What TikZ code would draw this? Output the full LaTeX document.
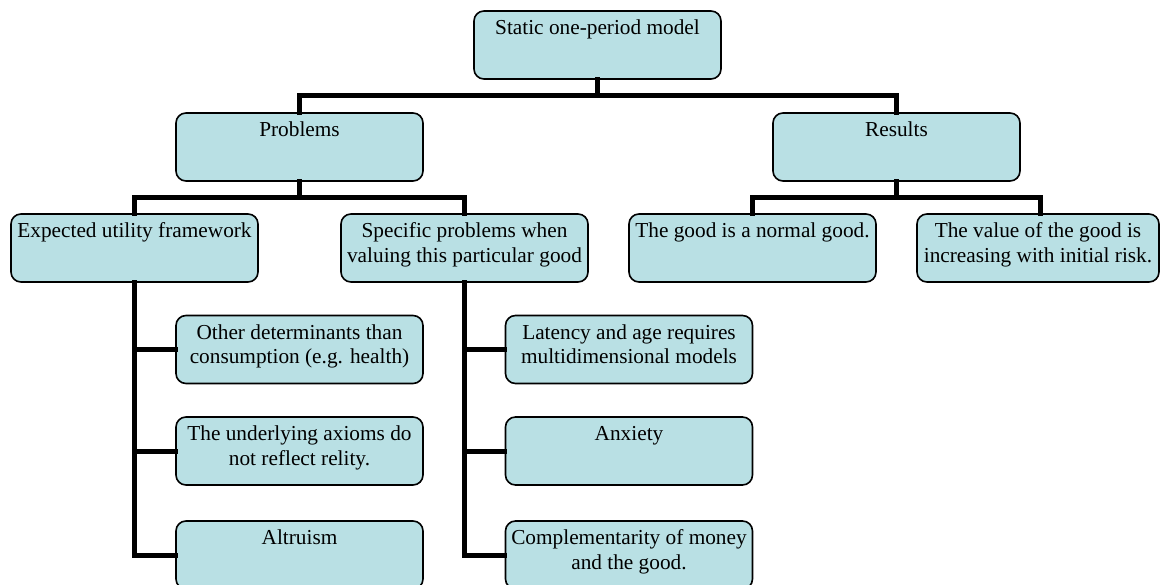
\documentclass[tikz,border=0pt]{standalone}
\usepackage{fontspec}
\setmainfont{Liberation Serif}
\definecolor{boxfill}{RGB}{185,224,228}
\tikzset{
  x=1pt, y=-1pt,
  box/.style={draw=black, line width=1.6pt, fill=boxfill, rounded corners=10pt,
    inner sep=0pt, minimum height=68pt, minimum width=#1},
  box/.default=247pt,
  conn/.style={draw=black, line width=5pt, line join=miter, line cap=rect},
}
% text set at the top of each box
\newcommand{\boxtext}[2][241pt]{\parbox[c][68pt][t]{#1}{\centering\fontsize{21.3}{24.5}\selectfont\vspace*{9pt}#2\par}}
\begin{document}
\begin{tikzpicture}
\useasboundingbox (0,0) rectangle (1160,585);

% levels
\node[box] (top) at (597.5,45) {\boxtext{Static one-period model}};
\node[box] (prob) at (299.5,147) {\boxtext{Problems}};
\node[box] (res) at (896.5,147) {\boxtext{Results}};

\node[box] (eu) at (134.5,248) {\boxtext{Expected utility framework}};
\node[box] (sp) at (464.5,248) {\boxtext{Specific problems when valuing this particular good}};
\node[box] (ng) at (752.5,248) {\boxtext{The good is a normal good.}};
\node[box=242pt] (vg) at (1038,248) {\boxtext[238pt]{The value of the good is increasing with initial risk.}};

\node[box] (a1) at (299.5,349.5) {\boxtext{Other determinants than consumption (e.g. health)}};
\node[box] (a2) at (299.5,451) {\boxtext{The underlying axioms do not reflect relity.}};
\node[box] (a3) at (299.5,555) {\boxtext{Altruism}};

\node[box] (b1) at (629,349.5) {\boxtext{Latency and age requires multidimensional models}};
\node[box] (b2) at (629,451) {\boxtext{Anxiety}};
\node[box] (b3) at (629,555) {\boxtext{Complementarity of money and the good.}};

% bus levels
\coordinate (bus1) at (0,96);
\coordinate (bus2) at (0,198);
\coordinate (vgtop) at (1040,214);

% connectors
\draw[conn] (top.south) -- (top.south |- bus1);
\draw[conn] (prob.north) -- (prob.north |- bus1) -- (res.north |- bus1) -- (res.north);

\draw[conn] (prob.south) -- (prob.south |- bus2);
\draw[conn] (eu.north) -- (eu.north |- bus2) -- (sp.north |- bus2) -- (sp.north);

\draw[conn] (res.south) -- (res.south |- bus2);
\draw[conn] (ng.north) -- (ng.north |- bus2) -- (vgtop |- bus2) -- (vgtop);

\draw[conn] (eu.south) |- (a3.west);
\draw[conn] (a1.west) -- (a1.west -| eu.south);
\draw[conn] (a2.west) -- (a2.west -| eu.south);

\draw[conn] (sp.south) |- (b3.west);
\draw[conn] (b1.west) -- (b1.west -| sp.south);
\draw[conn] (b2.west) -- (b2.west -| sp.south);
\end{tikzpicture}
\end{document}
